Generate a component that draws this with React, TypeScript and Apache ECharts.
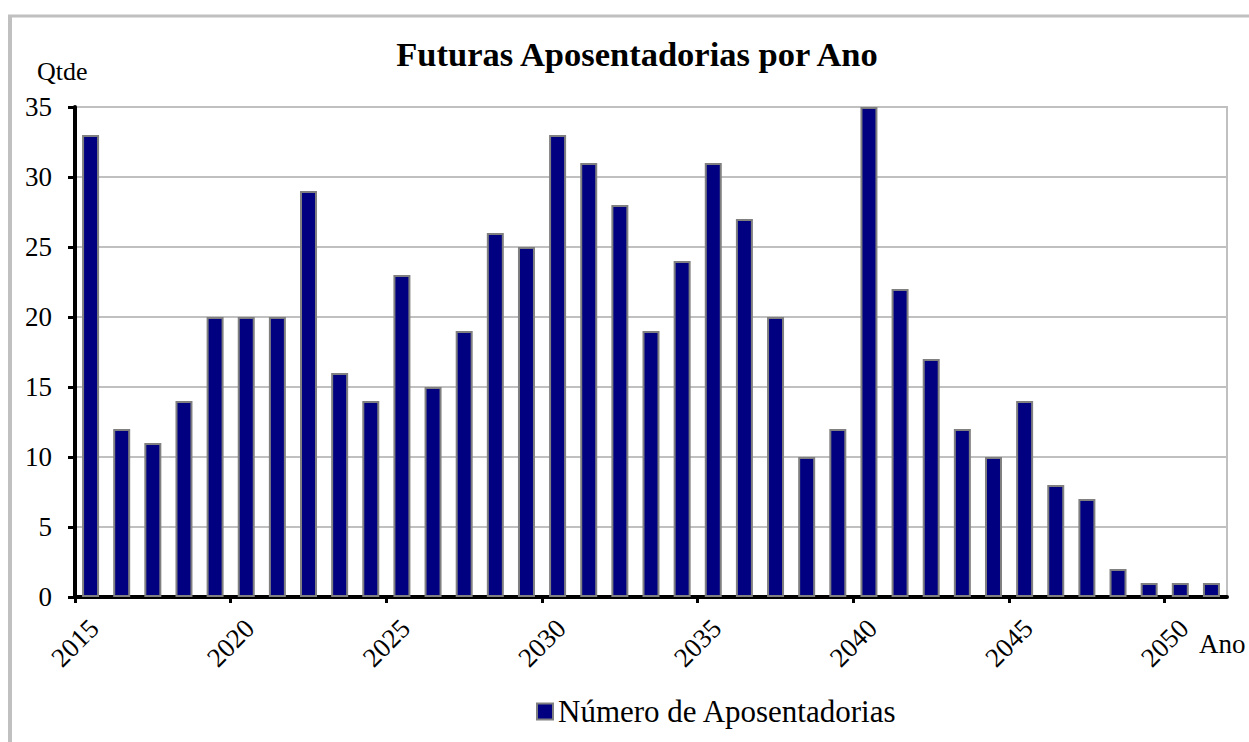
import React, { useEffect, useRef } from "react";
import * as echarts from "echarts";

const years: number[] = [
  2015, 2016, 2017, 2018, 2019, 2020, 2021, 2022, 2023, 2024,
  2025, 2026, 2027, 2028, 2029, 2030, 2031, 2032, 2033, 2034,
  2035, 2036, 2037, 2038, 2039, 2040, 2041, 2042, 2043, 2044,
  2045, 2046, 2047, 2048, 2049, 2050, 2051,
];
const aposentadorias: number[] = [
  33, 12, 11, 14, 20, 20, 20, 29, 16, 14,
  23, 15, 19, 26, 25, 33, 31, 28, 19, 24,
  31, 27, 20, 10, 12, 35, 22, 17, 12, 10,
  14, 8, 7, 2, 1, 1, 1,
];
const xTickLabels: number[] = [2015, 2020, 2025, 2030, 2035, 2040, 2045, 2050];
const yTicks: number[] = [0, 5, 10, 15, 20, 25, 30, 35];

const seriesName = "Número de Aposentadorias";
const titleText = "Futuras Aposentadorias por Ano";
const font = "Liberation Serif";

export default function App() {
  const ref = useRef<HTMLDivElement>(null);
  useEffect(() => {
    if (!ref.current) return;
    const chart = echarts.init(ref.current, undefined, { renderer: "svg" });
    const xMin = years[0];
    const xMax = years[years.length - 1] + 1;
    chart.setOption({
      animation: false,
      backgroundColor: "#ffffff",
      textStyle: { fontFamily: font },
      grid: {
        left: 75,
        right: 22,
        top: 107,
        bottom: 145,
        show: true,
        borderColor: "#c0c0c0",
        borderWidth: 2,
        backgroundColor: "transparent",
      },
      legend: {
        left: 531,
        top: 691,
        itemWidth: 16,
        itemHeight: 16,
        icon: "rect",
        textStyle: { fontFamily: font, fontSize: 31, color: "#000" },
        data: [seriesName],
      },
      xAxis: {
        type: "value",
        min: xMin,
        max: xMax,
        interval: 5,
        splitLine: { show: false },
        axisLine: { show: true, onZero: false, lineStyle: { color: "#000", width: 4 } },
        axisTick: {
          show: true,
          length: 6,
          lineStyle: { color: "#000", width: 3 },
          customValues: xTickLabels,
        },
        axisLabel: {
          show: true,
          customValues: xTickLabels,
          rotate: 45,
          align: "center",
          verticalAlign: "middle",
          margin: 46,
          fontFamily: font,
          fontSize: 27,
          color: "#000",
          formatter: (v: number) => String(v),
        },
      },
      yAxis: {
        type: "value",
        min: yTicks[0],
        max: yTicks[yTicks.length - 1],
        interval: 5,
        axisLine: { show: true, lineStyle: { color: "#000", width: 4 } },
        axisTick: { show: true, length: 7, lineStyle: { color: "#000", width: 3 } },
        splitLine: { show: true, lineStyle: { color: "#c0c0c0", width: 2 } },
        axisLabel: {
          margin: 23,
          fontFamily: font,
          fontSize: 27,
          color: "#000",
        },
      },
      series: [
        {
          name: seriesName,
          type: "bar",
          barWidth: 17,
          data: years.map((y, i) => [y + 0.5, aposentadorias[i]]),
          itemStyle: { color: "#000080", borderColor: "#808080", borderWidth: 2 },
          emphasis: { disabled: true },
        },
      ],
      graphic: [
        {
          type: "line",
          shape: { x1: 8, y1: 16, x2: 1249, y2: 16 },
          style: { stroke: "#c0c0c0", lineWidth: 3 },
        },
        {
          type: "line",
          shape: { x1: 10, y1: 15, x2: 10, y2: 742 },
          style: { stroke: "#c0c0c0", lineWidth: 4 },
        },
        {
          type: "text",
          x: 637,
          y: 54,
          style: {
            text: titleText,
            fontFamily: font,
            fontSize: 34.5,
            fontWeight: "bold",
            fill: "#000",
            textAlign: "center",
            textVerticalAlign: "middle",
          },
        },
        {
          type: "text",
          x: 37,
          y: 71,
          style: {
            text: "Qtde",
            fontFamily: font,
            fontSize: 26,
            fill: "#000",
            textAlign: "left",
            textVerticalAlign: "middle",
          },
        },
        {
          type: "text",
          x: 1199,
          y: 644,
          style: {
            text: "Ano",
            fontFamily: font,
            fontSize: 27,
            fill: "#000",
            textAlign: "left",
            textVerticalAlign: "middle",
          },
        },
      ],
    });
    return () => chart.dispose();
  }, []);
  return (
    <div
      ref={ref}
      style={{ position: "absolute", left: 0, top: 0, width: 1249, height: 742 }}
    />
  );
}
